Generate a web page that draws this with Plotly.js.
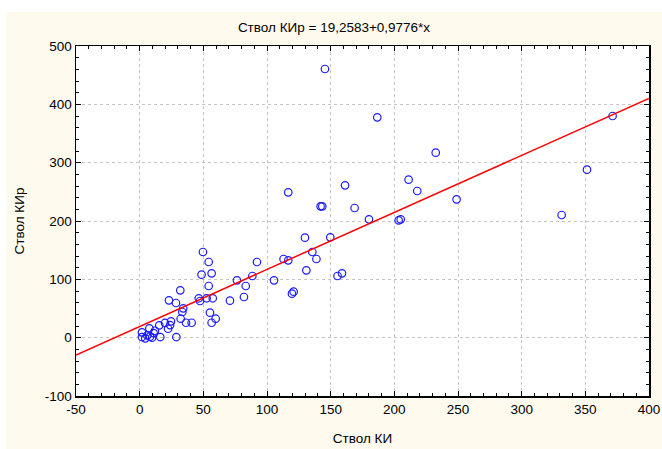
<!DOCTYPE html>
<html>
<head>
<meta charset="utf-8">
<script src="https://cdn.plot.ly/plotly-3.0.1.min.js"></script>
<style>
html,body{margin:0;padding:0;background:#ffffff;width:662px;height:449px;overflow:hidden;}
#chart{position:absolute;left:6px;top:12px;width:656px;height:437px;}
</style>
</head>
<body>
<div id="chart"></div>
<script>
const stvolKI = [145.5, 186.6, 116.7, 161.3, 142.1, 143.4, 168.8, 180.1, 129.8, 149.7,
  135.6, 113.0, 116.7, 138.8, 130.9, 155.4, 158.9, 105.5, 92.1, 88.5,
  76.4, 83.3, 81.9, 70.9, 119.6, 120.9, 49.7, 54.2, 48.6, 56.5,
  54.2, 46.4, 52.6, 57.4, 371.4, 232.5, 211.2, 218.0, 248.9, 203.4,
  205.0, 331.4, 351.3, 31.9, 23.0, 28.5, 47.4, 34.2, 33.5, 32.2,
  36.4, 40.8, 55.2, 59.7, 56.5, 28.8, 24.6, 19.9, 23.9, 22.3,
  15.4, 12.0, 7.6, 11.0, 1.8, 6.0, 1.8, 4.4, 8.1, 9.7, 16.2];
const stvolKIr = [460.6, 377.7, 249.2, 261.2, 225.2, 225.2, 222.3, 202.9, 171.4, 172.0,
  146.9, 134.9, 132.6, 134.9, 115.4, 105.7, 110.3, 98.3, 129.7, 105.7,
  98.3, 88.6, 69.7, 63.4, 75.5, 78.8, 146.9, 129.7, 108.0, 110.3,
  88.6, 67.5, 67.5, 67.5, 380.0, 317.1, 270.9, 251.4, 237.1, 201.2,
  202.9, 210.3, 288.0, 81.2, 64.0, 59.4, 62.9, 50.3, 44.0, 32.5,
  25.6, 25.6, 42.9, 32.5, 25.6, 1.1, 28.0, 25.2, 21.6, 15.3,
  21.1, 11.9, 16.0, 7.9, 9.1, 3.9, 1.1, -1.1, 1.7, 0.0, 1.1];
const intercept = 19.2583;
const slope = 0.9776;
const lineX = [-50, 400];
const lineY = lineX.map(v => intercept + slope * v);
const xTicks = [-50, 0, 50, 100, 150, 200, 250, 300, 350, 400];
const yTicks = [-100, 0, 100, 200, 300, 400, 500];

const font = {family: 'Liberation Sans, Arial, sans-serif', size: 13.5, color: '#000000'};

const traces = [
  {x: stvolKI, y: stvolKIr, type: 'scatter', mode: 'markers',
   marker: {symbol: 'circle-open', size: 7.5, color: '#1a1aff', line: {width: 1.2, color: '#1a1aff'}},
   hoverinfo: 'x+y', showlegend: false},
  {x: lineX, y: lineY, type: 'scatter', mode: 'lines',
   line: {color: '#ff0000', width: 1.5}, showlegend: false, hoverinfo: 'skip'}
];

const axisCommon = {
  showline: true, linecolor: '#000000', linewidth: 1.5, mirror: 'allticks',
  ticks: 'inside', ticklen: 5, tickwidth: 1, tickcolor: '#000000',
  showgrid: true, gridcolor: '#c4c4c4', griddash: 'dot', gridwidth: 1,
  zeroline: false, tickfont: font
};

const layout = {
  width: 656, height: 437,
  margin: {l: 70, r: 13, t: 34, b: 53, pad: 0},
  paper_bgcolor: '#fffaee', plot_bgcolor: '#ffffff',
  font: font,
  title: {text: 'Ствол КИр = 19,2583+0,9776*x', font: {family: font.family, size: 13.5, color: '#000'},
          xref: 'container', x: 0.5, xanchor: 'center', yref: 'container', y: 0.966, yanchor: 'middle'},
  xaxis: Object.assign({}, axisCommon, {
    range: [-50, 400], tickmode: 'array', tickvals: xTicks, ticktext: xTicks.map(String),
    minor: {dtick: 10, ticks: 'inside', ticklen: 3, tickcolor: '#000', showgrid: false},
    title: {text: 'Ствол КИ', font: font, standoff: 18}
  }),
  yaxis: Object.assign({}, axisCommon, {
    range: [-100, 500], tickmode: 'array', tickvals: yTicks, ticktext: yTicks.map(String),
    minor: {dtick: 20, ticks: 'inside', ticklen: 3, tickcolor: '#000', showgrid: false},
    title: {text: 'Ствол КИр', font: font, standoff: 17}
  })
};

Plotly.newPlot('chart', traces, layout, {displayModeBar: false, staticPlot: true});
</script>
</body>
</html>
